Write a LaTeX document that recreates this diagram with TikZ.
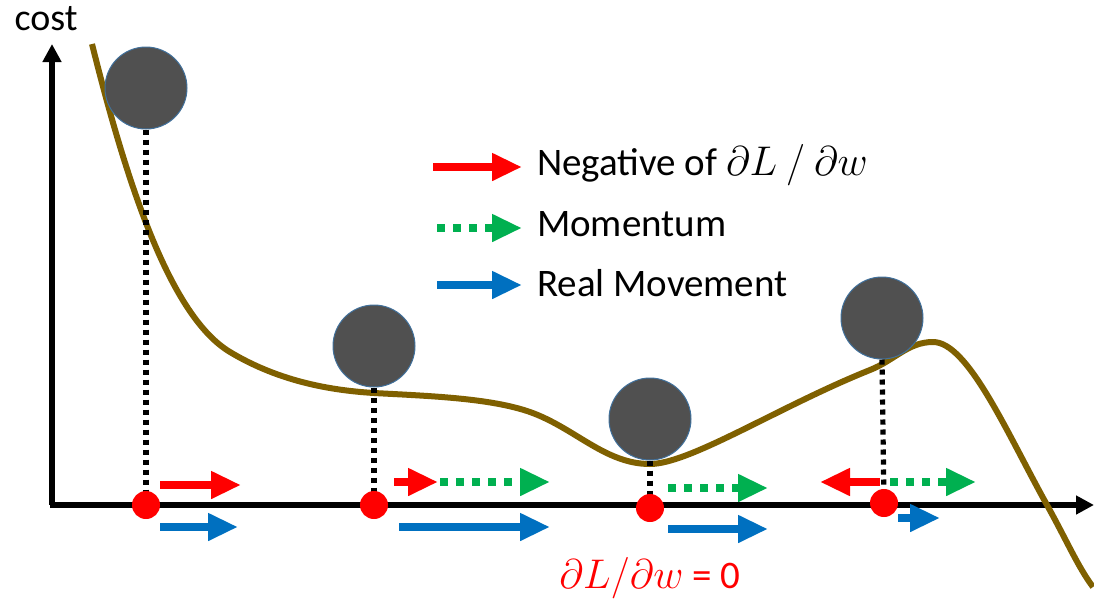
\documentclass[tikz,border=0pt]{standalone}
\usepackage{fontspec}
\setmainfont{Carlito}
\usetikzlibrary{arrows.meta}
\definecolor{curvaOro}{HTML}{7F6000}
\definecolor{bolaGris}{HTML}{505050}
\definecolor{bordeBola}{HTML}{41719C}
\definecolor{rojoGrad}{HTML}{FF0000}
\definecolor{verdeMom}{HTML}{00B050}
\definecolor{azulMov}{HTML}{0070C0}

\tikzset{
  gradarrow/.style={rojoGrad,line width=4pt,-{Triangle[length=15pt,width=13pt]}},
  momarrow/.style={verdeMom,line width=4pt,dash pattern=on 4pt off 4pt,
    -{Triangle[length=15pt,width=13pt]}},
  movarrow/.style={azulMov,line width=4pt,-{Triangle[length=15pt,width=13pt]}},
  bola/.style={circle,fill=bolaGris,draw=bordeBola,line width=.5pt,
    minimum size=41pt,inner sep=0pt},
  punto/.style={circle,fill=rojoGrad,minimum size=14pt,inner sep=0pt},
  caida/.style={line width=2.6pt,dash pattern=on 2.6pt off 2.4pt},
  leyenda/.style={anchor=west,font=\fontsize{19.5}{23}\selectfont}
}

\begin{document}
\begin{tikzpicture}[x=0.5pt,y=-0.5pt,>=Stealth]
  \useasboundingbox (0,0) rectangle (1094,606);
  % axes
  \draw[line width=3pt,-{Triangle[length=9pt,width=9pt]}] (52,505) -- (52,44);
  \draw[line width=3pt,-{Triangle[length=9pt,width=9pt]}] (50,505) -- (1094,505);
  \node[font=\fontsize{19}{22}\selectfont] (cost) at (46,19) {cost};
  % cost curve
  \draw[curvaOro,line width=3pt] (92,44)
    .. controls (127,184) and (170,316) .. (230,352)
    .. controls (275,379) and (324,390) .. (374,393)
    .. controls (429,396) and (490,398) .. (530,412)
    .. controls (575,428) and (605,464) .. (650,464)
    .. controls (690,464) and (780,406) .. (870,370)
    .. controls (895,360) and (908,342) .. (933,342)
    .. controls (968,342) and (1007,433) .. (1047,505)
    .. controls (1067,541) and (1078,567) .. (1093,587);
  % balls and their points on the axis
  \node[bola] (b1) at (146,88) {};
  \node[bola] (b2) at (374,346) {};
  \node[bola] (b3) at (650,419) {};
  \node[bola] (b4) at (882,318) {};
  \coordinate (p1) at (146,505);
  \coordinate (p2) at (374,505);
  \coordinate (p3) at (650,508);
  \coordinate (p4) at (884,503);
  \draw[caida] (b1.south) -- (p1);
  \draw[caida] (b2.south) -- (p2);
  \draw[caida] (b3.south) -- (p3);
  \draw[caida] (b4.south) -- (p4);
  \node[punto] (d1) at (p1) {};
  \node[punto] (d2) at (p2) {};
  \node[punto] (d3) at (p3) {};
  \node[punto] (d4) at (p4) {};
  % arrows at each point
  \draw[gradarrow] (160,485) -- (241,485);
  \draw[movarrow] (160,527) -- (238,527);
  \draw[gradarrow] (394,482) -- (438,482);
  \draw[momarrow] (440,482) -- (550,482);
  \draw[movarrow] (399,527) -- (550,527);
  \draw[momarrow] (668,488) -- (768,488);
  \draw[movarrow] (668,529) -- (768,529);
  \draw[gradarrow] (880,482) -- (820,482);
  \draw[momarrow] (890,482) -- (976,482);
  \draw[movarrow] (898,518) -- (940,518);
  % legend
  \draw[gradarrow] (433,167) -- (522,167);
  \draw[momarrow] (437,228) -- (522,228);
  \draw[movarrow] (437,285) -- (522,285);
  \node[leyenda] (lgrad) at (530,165) {Negative of $\partial L\ /\ \partial w$};
  \node[leyenda] (lmom) at (530,224) {Momentum};
  \node[leyenda] (lmov) at (530,283) {Real Movement};
  \node[leyenda,anchor=center,text=rojoGrad] (cero) at (650,578)
    {$\partial L/\partial w$ = 0};
\end{tikzpicture}
\end{document}
